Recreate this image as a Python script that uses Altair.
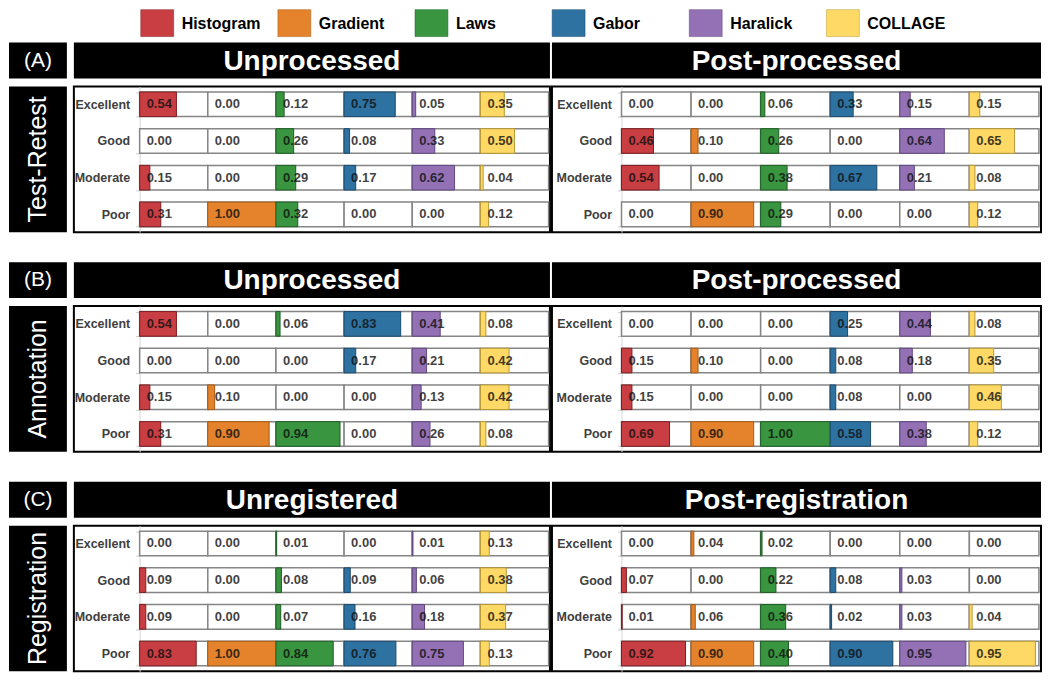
import altair as alt
import pandas as pd

families = ["Histogram", "Gradient", "Laws", "Gabor", "Haralick", "COLLAGE"]
levels = ["Excellent", "Good", "Moderate", "Poor"]
fill_colors = ["#C83E42", "#E5832D", "#39953F", "#2E72A2", "#9371B4", "#FFD966"]
stroke_colors = ["#7E1E22", "#A85A14", "#1D5E24", "#1B4A6C", "#5F4782", "#B89A35"]

# values per family, rows: Excellent, Good, Moderate, Poor
testretest_unprocessed = {
    "Histogram": [0.54, 0.00, 0.15, 0.31],
    "Gradient": [0.00, 0.00, 0.00, 1.00],
    "Laws": [0.12, 0.26, 0.29, 0.32],
    "Gabor": [0.75, 0.08, 0.17, 0.00],
    "Haralick": [0.05, 0.33, 0.62, 0.00],
    "COLLAGE": [0.35, 0.50, 0.04, 0.12],
}
testretest_postprocessed = {
    "Histogram": [0.00, 0.46, 0.54, 0.00],
    "Gradient": [0.00, 0.10, 0.00, 0.90],
    "Laws": [0.06, 0.26, 0.38, 0.29],
    "Gabor": [0.33, 0.00, 0.67, 0.00],
    "Haralick": [0.15, 0.64, 0.21, 0.00],
    "COLLAGE": [0.15, 0.65, 0.08, 0.12],
}
annotation_unprocessed = {
    "Histogram": [0.54, 0.00, 0.15, 0.31],
    "Gradient": [0.00, 0.00, 0.10, 0.90],
    "Laws": [0.06, 0.00, 0.00, 0.94],
    "Gabor": [0.83, 0.17, 0.00, 0.00],
    "Haralick": [0.41, 0.21, 0.13, 0.26],
    "COLLAGE": [0.08, 0.42, 0.42, 0.08],
}
annotation_postprocessed = {
    "Histogram": [0.00, 0.15, 0.15, 0.69],
    "Gradient": [0.00, 0.10, 0.00, 0.90],
    "Laws": [0.00, 0.00, 0.00, 1.00],
    "Gabor": [0.25, 0.08, 0.08, 0.58],
    "Haralick": [0.44, 0.18, 0.00, 0.38],
    "COLLAGE": [0.08, 0.35, 0.46, 0.12],
}
registration_unregistered = {
    "Histogram": [0.00, 0.09, 0.09, 0.83],
    "Gradient": [0.00, 0.00, 0.00, 1.00],
    "Laws": [0.01, 0.08, 0.07, 0.84],
    "Gabor": [0.00, 0.09, 0.16, 0.76],
    "Haralick": [0.01, 0.06, 0.18, 0.75],
    "COLLAGE": [0.13, 0.38, 0.37, 0.13],
}
registration_postregistration = {
    "Histogram": [0.00, 0.07, 0.01, 0.92],
    "Gradient": [0.04, 0.00, 0.06, 0.90],
    "Laws": [0.02, 0.22, 0.36, 0.40],
    "Gabor": [0.00, 0.08, 0.02, 0.90],
    "Haralick": [0.00, 0.03, 0.03, 0.95],
    "COLLAGE": [0.00, 0.00, 0.04, 0.95],
}

FONT = "Liberation Sans"
BOX_W = 58
GAP1 = 5          # extra room right of the left black boxes
HDR_H = 36
BODY_H = 146
WL = 477
WR = 490

fill_scale = alt.Scale(domain=families, range=fill_colors)
stroke_scale = alt.Scale(domain=families, range=stroke_colors)


def long_df(vals):
    rows = []
    for i, f in enumerate(families):
        for j, lv in enumerate(levels):
            rows.append({"family": f, "fi": i, "level": lv, "value": vals[f][j]})
    return pd.DataFrame(rows)


def panel(vals, width, xmin, xmax):
    df = long_df(vals)
    xs = alt.Scale(domain=[xmin, xmax], nice=False, zero=False)
    off = width * (-xmin) / (xmax - xmin)
    yenc = alt.Y(
        "level:N",
        sort=levels,
        scale=alt.Scale(paddingInner=0.33, paddingOuter=0.15),
        axis=alt.Axis(
            title=None, orient="left", offset=-off, minExtent=0,
            labelFont=FONT, labelFontWeight="bold", labelFontSize=12.5,
            labelColor="#404040", labelPadding=6, tickSize=4,
            tickColor="#cccccc", tickBand="extent", domainColor="#d6d6d6",
            domainWidth=1,
        ),
    )
    base = alt.Chart(df).encode(y=yenc)
    cells = base.transform_calculate(
        xa="datum.fi", xb="datum.fi + 1"
    ).mark_bar(fill="white", stroke="#858585", strokeWidth=1.5).encode(
        x=alt.X("xa:Q", scale=xs, axis=None), x2="xb:Q"
    )
    bars = base.transform_filter("datum.value > 0").transform_calculate(
        xa="datum.fi", xb="datum.fi + datum.value"
    ).mark_bar(strokeWidth=1).encode(
        x=alt.X("xa:Q", scale=xs, axis=None),
        x2="xb:Q",
        fill=alt.Fill("family:N", scale=fill_scale, legend=None),
        stroke=alt.Stroke("family:N", scale=stroke_scale, legend=None),
    )
    text = base.transform_calculate(
        xa="datum.fi", lbl="format(datum.value, '.2f')"
    ).mark_text(
        align="left", baseline="middle", dx=7, font=FONT, fontWeight="bold",
        fontSize=13, fill="#111111", opacity=0.8,
    ).encode(x=alt.X("xa:Q", scale=xs, axis=None), text="lbl:N")
    return alt.layer(cells, bars, text).properties(
        width=width, height=BODY_H,
        view=alt.ViewBackground(fill="white", stroke="black", strokeWidth=2),
    )


def black_box(label, width, height, size, weight="normal", angle=0, dy=0,
              top=0, boxw=None):
    bw = width if boxw is None else boxw
    src = alt.Chart(pd.DataFrame({"t": [label]}))
    rect = src.mark_rect(color="black").encode(
        x=alt.value(0), x2=alt.value(bw), y=alt.value(top), y2=alt.value(height)
    )
    txt = src.mark_text(
        color="white", font=FONT, fontSize=size, fontWeight=weight,
        align="center", baseline="middle", angle=angle, dy=dy,
    ).encode(
        text="t:N", x=alt.value(bw / 2), y=alt.value(top + (height - top) / 2)
    )
    return alt.layer(rect, txt).properties(width=width, height=height)


def header_row(letter, t1, t2, top):
    return alt.hconcat(
        black_box(letter, BOX_W + GAP1, HDR_H + top, 21, top=top, boxw=BOX_W),
        black_box(t1, WL, HDR_H + top, 28, "bold", dy=1, top=top),
        black_box(t2, WR, HDR_H + top, 28, "bold", dy=1, top=top),
        spacing=2, bounds="flush",
    )


def body_row(rowname, v1, v2):
    return alt.hconcat(
        black_box(rowname, BOX_W + GAP1, BODY_H, 25, angle=270, boxw=BOX_W),
        panel(v1, WL, -0.965, 6.02),
        panel(v2, WR, -1.0, 6.03),
        spacing=2, bounds="flush",
    ).resolve_scale(x="independent")


# legend chart
leg_df = pd.DataFrame({"family": families, "idx": list(range(len(families)))})
pitch = 137.4
leg_w = 1028
lxs = alt.Scale(domain=[-132 / pitch, (leg_w - 132) / pitch], nice=False, zero=False)
leg_base = alt.Chart(leg_df)
swatches = leg_base.transform_calculate(xb="datum.idx + 0.24").mark_bar(
    strokeWidth=1, strokeOpacity=0.5
).encode(
    x=alt.X("idx:Q", scale=lxs, axis=None),
    x2="xb:Q",
    y=alt.value(0),
    y2=alt.value(27),
    fill=alt.Fill("family:N", scale=fill_scale, legend=None),
    stroke=alt.Stroke("family:N", scale=stroke_scale, legend=None),
)
leg_text = leg_base.mark_text(
    align="left", baseline="middle", dx=41, font=FONT, fontWeight="bold",
    fontSize=16, color="black",
).encode(x=alt.X("idx:Q", scale=lxs, axis=None), y=alt.value(14), text="family:N")
legend = alt.layer(swatches, leg_text).properties(width=leg_w, height=27)

rows = [
    legend,
    header_row("(A)", "Unprocessed", "Post-processed", 4),
    body_row("Test-Retest", testretest_unprocessed, testretest_postprocessed),
    header_row("(B)", "Unprocessed", "Post-processed", 28),
    body_row("Annotation", annotation_unprocessed, annotation_postprocessed),
    header_row("(C)", "Unregistered", "Post-registration", 28),
    body_row("Registration", registration_unregistered, registration_postregistration),
]

chart = alt.vconcat(*rows, spacing=0).resolve_scale(x="independent").properties(
    padding=0
).configure_view(stroke="transparent")

chart.save("out.html", embed_options={"renderer": "svg", "actions": False})
